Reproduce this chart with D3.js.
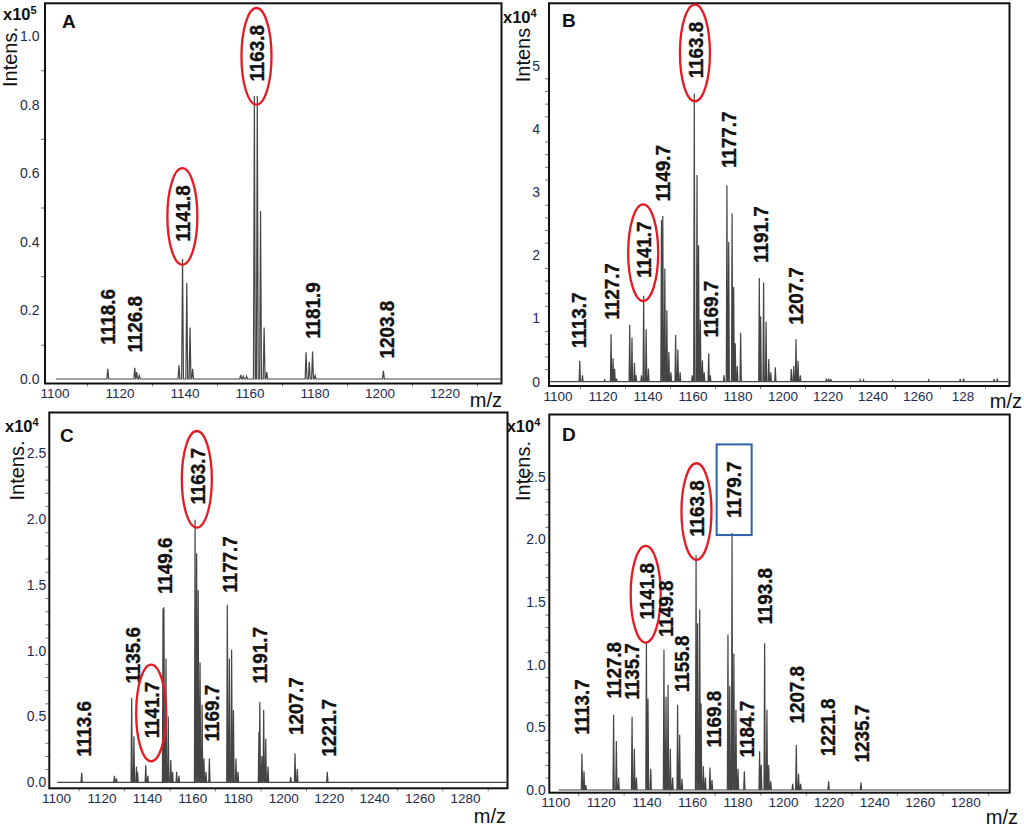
<!DOCTYPE html>
<html>
<head>
<meta charset="utf-8">
<script src="https://cdn.jsdelivr.net/npm/d3@7"></script>
<style>
  body { margin: 0; background: #fff; }
  svg { display: block; }
  text { font-family: "Liberation Sans", Arial, sans-serif; }
</style>
</head>
<body>
<div id="fig"></div>
<script>
// ---- data (m/z, intensity in axis units) ----
const peaksA = [
  [1116.4, 0.03], [1124.7, 0.033], [1125.3, 0.02], [1126.1, 0.01],
  [1138.3, 0.04], [1139.4, 0.35], [1140.7, 0.28], [1141.7, 0.15], [1142.5, 0.03],
  [1157.3, 0.012], [1158.1, 0.008], [1159.1, 0.008],
  [1161.5, 0.825], [1162.4, 0.825], [1163.4, 0.49], [1164.5, 0.15], [1165.3, 0.02],
  [1177.4, 0.078], [1178.4, 0.05], [1179.4, 0.08], [1180.2, 0.01],
  [1201.2, 0.024]
];
const peaksB = [
  [1109.9, 0.33], [1111.1, 0.1], [1121.0, 0.03],
  [1123.8, 0.75], [1124.7, 0.37], [1125.4, 0.2], [1126.2, 0.05],
  [1132.1, 0.9], [1133.1, 0.7], [1134.2, 0.3], [1134.9, 0.1],
  [1137.3, 0.1], [1138.3, 1.36], [1139.4, 0.83], [1140.4, 0.21],
  [1146.2, 2.56], [1146.8, 2.62], [1147.7, 1.79], [1148.6, 1.13], [1149.5, 0.47], [1150.4, 0.15],
  [1152.5, 0.74], [1153.5, 0.51], [1154.5, 0.15],
  [1159.9, 0.1], [1160.8, 4.56], [1162.0, 3.27], [1162.7, 2.16], [1163.5, 0.98], [1164.4, 0.34], [1165.2, 0.15],
  [1167.2, 0.45], [1167.9, 0.1],
  [1174.0, 0.1], [1175.3, 3.11], [1176.1, 2.21], [1177.6, 2.66], [1178.3, 1.5], [1179.0, 0.61], [1179.9, 0.25], [1181.4, 0.77],
  [1189.7, 1.64], [1190.3, 1.03], [1191.6, 1.57], [1192.7, 0.95], [1193.9, 0.36], [1194.8, 0.15], [1196.8, 0.23],
  [1203.9, 0.2], [1205.0, 0.25], [1206.0, 0.67], [1206.9, 0.33], [1207.9, 0.1],
  [1219.5, 0.05], [1220.5, 0.05], [1221.5, 0.04], [1234.5, 0.03], [1236.0, 0.03],
  [1249.0, 0.02], [1265.0, 0.03], [1279.0, 0.04], [1280.5, 0.05], [1294.0, 0.04], [1295.5, 0.05]
];
const peaksC = [
  [1111.3, 0.073], [1125.7, 0.05], [1126.6, 0.03],
  [1133.3, 0.64], [1134.3, 0.35], [1135.4, 0.12], [1135.9, 0.08],
  [1139.5, 0.13], [1140.4, 0.05],
  [1147.1, 1.32], [1147.5, 1.33], [1148.4, 0.94], [1149.4, 0.5], [1150.5, 0.17], [1151.3, 0.08], [1153.1, 0.08], [1154.1, 0.05],
  [1161.2, 1.995], [1161.9, 1.74], [1162.6, 1.46], [1163.4, 0.91], [1164.3, 0.59], [1165.1, 0.18], [1166.0, 0.08], [1167.5, 0.18],
  [1175.4, 1.35], [1176.3, 0.94], [1177.3, 1.01], [1178.1, 0.55], [1179.2, 0.18], [1180.1, 0.08],
  [1189.3, 0.38], [1189.7, 0.61], [1190.6, 0.2], [1191.4, 0.55], [1192.3, 0.33], [1193.3, 0.12],
  [1203.3, 0.04], [1205.2, 0.22], [1206.2, 0.1],
  [1219.4, 0.08]
];
const peaksD = [
  [1111.7, 0.29], [1112.6, 0.15], [1113.4, 0.04],
  [1125.6, 0.6], [1126.8, 0.39], [1127.8, 0.1],
  [1133.7, 0.585], [1134.7, 0.33], [1135.6, 0.1],
  [1140.0, 1.18], [1140.7, 0.73], [1141.9, 0.17],
  [1147.7, 1.12], [1148.6, 0.745], [1149.5, 0.84], [1150.5, 0.33], [1151.5, 0.1],
  [1153.7, 0.68], [1154.6, 0.44], [1155.6, 0.09],
  [1161.8, 1.875], [1162.5, 1.33], [1163.4, 1.44], [1164.0, 0.69], [1165.0, 0.19], [1165.9, 0.1],
  [1167.9, 0.18], [1168.8, 0.08],
  [1175.8, 1.24], [1176.6, 0.83], [1177.6, 2.05], [1178.4, 1.09], [1179.3, 0.64], [1180.2, 0.17], [1183.0, 0.15],
  [1189.7, 0.31], [1190.4, 0.2], [1191.9, 1.17], [1192.9, 0.64], [1193.7, 0.2], [1194.6, 0.07],
  [1204.2, 0.05], [1205.8, 0.36], [1206.8, 0.13], [1207.7, 0.05],
  [1220.0, 0.07], [1234.2, 0.06]
];

// peak annotations: [text, m/z on axis, intensity at the foot of the label]
const labelsA = [
  ['1118.6', 1116.4, 0.10], ['1126.8', 1124.8, 0.077], ['1141.8', 1139.5, 0.40],
  ['1163.8', 1162.3, 0.867], ['1181.9', 1179.5, 0.117], ['1203.8', 1202.2, 0.06]
];
const labelsB = [
  ['1113.7', 1109.5, 0.53], ['1127.7', 1124.2, 0.98], ['1141.7', 1138.3, 1.64],
  ['1149.7', 1146.8, 2.85], ['1163.8', 1161.3, 4.80], ['1169.7', 1167.9, 0.70],
  ['1177.7', 1176.1, 3.38], ['1191.7', 1190.2, 1.88], ['1207.7', 1205.7, 0.90]
];
const labelsC = [
  ['1113.6', 1112.0, 0.195], ['1135.6', 1133.6, 0.75], ['1141.7', 1142.1, 0.334],
  ['1149.6', 1148.0, 1.43], ['1163.7', 1162.2, 2.11], ['1169.7', 1168.5, 0.31],
  ['1177.7', 1176.3, 1.44], ['1191.7', 1189.8, 0.75], ['1207.7', 1205.6, 0.36],
  ['1221.7', 1219.9, 0.195]
];
const labelsD = [
  ['1113.7', 1111.7, 0.44], ['1127.8', 1125.6, 0.73], ['1135.7', 1133.7, 0.72],
  ['1141.8', 1139.9, 1.36], ['1149.8', 1148.6, 1.22], ['1155.8', 1155.3, 0.78],
  ['1163.8', 1162.2, 2.02], ['1169.8', 1169.5, 0.34], ['1179.7', 1178.3, 2.17],
  ['1184.7', 1184.2, 0.26], ['1193.8', 1191.7, 1.32], ['1207.8', 1206.1, 0.53],
  ['1221.8', 1219.7, 0.27], ['1235.7', 1234.3, 0.22]
];
const circledA = ['1141.8', '1163.8'];
const circledB = ['1141.7', '1163.8'];
const circledC = ['1141.7', '1163.7'];
const circledD = ['1141.8', '1163.8'];
const boxedD = ['1179.7'];

// axis ticks
const xTicksA = [1100, 1120, 1140, 1160, 1180, 1200, 1220];
const xTicksBCD = [1100, 1120, 1140, 1160, 1180, 1200, 1220, 1240, 1260, 1280];
const xTextB = ['1100', '1120', '1140', '1160', '1180', '1200', '1220', '1240', '1260', '128'];
const yTicksA = [0, 0.2, 0.4, 0.6, 0.8, 1.0];
const yTicksB = [0, 1, 2, 3, 4, 5];
const yTicksCD = [0, 0.5, 1.0, 1.5, 2.0, 2.5];

// ---- layout of the four panels ----
const panels = [
  { letter: 'A', exp: '5', intens: 'Intens.', peaks: peaksA, labels: labelsA, circled: circledA, boxed: [],
    xTicks: xTicksA, xText: null, yTicks: yTicksA, yFmt: d3.format('.1f'), yMinor: 0.1,
    xCal: [1100, 1220], xPx: [54.5, 444.5], yCal: [0, 1], yPx: [379, 36],
    frame: [45, 3.3, 501.5, 383.5], letterPos: [62, 28], expPos: [3, 20], intensPos: [10, 57],
    mzPos: [502, 407], yLabGap: 5.5, startMz: 1100.4 },
  { letter: 'B', exp: '4', intens: 'Intens', peaks: peaksB, labels: labelsB, circled: circledB, boxed: [],
    xTicks: xTicksBCD, xText: xTextB, yTicks: yTicksB, yFmt: d3.format('d'), yMinor: 0.2,
    xCal: [1100, 1280], xPx: [557.5, 962.5], yCal: [0, 5], yPx: [381.7, 65.7],
    frame: [549, 3.3, 1009.5, 386], letterPos: [562, 27], expPos: [503, 23.3], intensPos: [523, 55],
    mzPos: [1022, 408], yLabGap: 9, startMz: null },
  { letter: 'C', exp: '4', intens: 'Intens.', peaks: peaksC, labels: labelsC, circled: circledC, boxed: [],
    xTicks: xTicksBCD, xText: null, yTicks: yTicksCD, yFmt: d3.format('.1f'), yMinor: 0.1,
    xCal: [1100, 1280], xPx: [56, 465], yCal: [0, 2.5], yPx: [782.3, 453.3],
    frame: [49.3, 412.5, 507.5, 788.3], letterPos: [60, 441.7], expPos: [5, 431.7], intensPos: [16.7, 470.5],
    mzPos: [506, 823], yLabGap: 3, startMz: 1100.6 },
  { letter: 'D', exp: '4', intens: 'Intens.', peaks: peaksD, labels: labelsD, circled: circledD, boxed: boxedD,
    xTicks: xTicksBCD, xText: null, yTicks: yTicksCD, yFmt: d3.format('.1f'), yMinor: 0.1,
    xCal: [1100, 1280], xPx: [555.3, 965.3], yCal: [0, 2.5], yPx: [790, 476.7],
    frame: [549.3, 414.5, 1009.7, 792.7], letterPos: [562, 441], expPos: [506.7, 431.7], intensPos: [522.7, 471],
    mzPos: [1018, 824], yLabGap: 3.5, startMz: 1101.5 }
];

const W = 1024, H = 829;
const PEAK_HALF = 0.28; // half width of a profile peak, in m/z
const svg = d3.select('#fig').append('svg').attr('width', W).attr('height', H);

panels.forEach(p => drawPanel(svg, p));

function drawPanel(root, p) {
  const x = d3.scaleLinear().domain(p.xCal).range(p.xPx);
  const y = d3.scaleLinear().domain(p.yCal).range(p.yPx);
  const [fx0, fy0, fx1, fy1] = p.frame;
  const g = root.append('g').attr('class', 'panel panel-' + p.letter);

  // spectrum trace: baseline with narrow profile peaks
  const mz0 = p.startMz != null ? p.startMz : x.invert(fx0 + 1);
  const mz1 = x.invert(fx1 - 1);
  const pts = [[mz0, 0]];
  p.peaks.slice().sort((a, b) => a[0] - b[0]).forEach(([m, v]) => {
    pts.push([m - PEAK_HALF, 0], [m, v], [m + PEAK_HALF, 0]);
  });
  pts.push([mz1, 0]);
  g.append('path')
    .attr('d', d3.line().x(d => x(d[0])).y(d => y(d[1]))(pts))
    .attr('fill', 'none')
    .attr('stroke', '#444')
    .attr('stroke-width', 1.2)
    .attr('stroke-linejoin', 'miter');

  // y axis labels and minor ticks
  const yMinorVals = d3.range(p.yCal[0], p.yCal[1] + 1e-9, p.yMinor)
    .filter(v => !p.yTicks.some(t => Math.abs(t - v) < 1e-6));
  g.append('g')
    .attr('transform', `translate(${fx0}, 0)`)
    .call(d3.axisLeft(y).tickValues(yMinorVals).tickSize(4).tickFormat(''))
    .call(s => s.select('.domain').remove())
    .call(s => s.selectAll('line').attr('stroke', '#777'));
  g.append('g')
    .attr('transform', `translate(${fx0}, 0)`)
    .call(d3.axisLeft(y).tickValues(p.yTicks).tickFormat(p.yFmt).tickSize(0).tickPadding(p.yLabGap))
    .call(s => s.select('.domain').remove())
    .call(s => s.selectAll('text')
      .attr('font-family', '"Liberation Sans", Arial, sans-serif')
      .attr('font-size', 14)
      .attr('fill', '#1d2b4f'));

  // x axis labels and minor ticks
  const xMinorVals = d3.range(1110, x.invert(fx1), 20);
  g.append('g')
    .attr('transform', `translate(0, ${fy1})`)
    .call(d3.axisBottom(x).tickValues(xMinorVals).tickSize(3).tickFormat(''))
    .call(s => s.select('.domain').remove())
    .call(s => s.selectAll('line').attr('stroke', '#777'));
  g.append('g')
    .attr('transform', `translate(0, ${fy1})`)
    .call(d3.axisBottom(x).tickValues(p.xTicks).tickSize(0).tickPadding(5)
      .tickFormat((d, i) => p.xText ? p.xText[i] : d3.format('d')(d)))
    .call(s => s.select('.domain').remove())
    .call(s => s.selectAll('text')
      .attr('font-family', '"Liberation Sans", Arial, sans-serif')
      .attr('font-size', 13.5)
      .attr('fill', '#1d2b4f'));

  // frame
  g.append('rect')
    .attr('x', fx0).attr('y', fy0)
    .attr('width', fx1 - fx0).attr('height', fy1 - fy0)
    .attr('fill', 'none')
    .attr('stroke', '#111')
    .attr('stroke-width', 2);

  // peak labels (slightly condensed heavy digits, read bottom to top)
  const SQUEEZE = 0.92;
  p.labels.forEach(([txt, m, v]) => {
    const px = x(m), py = y(v);
    const t = g.append('text')
      .attr('transform', `translate(${px}, ${py}) rotate(-90) scale(${SQUEEZE}, 1)`)
      .attr('dy', '0.36em')
      .attr('font-size', 20.5)
      .attr('font-weight', 'bold')
      .attr('fill', '#111')
      .attr('stroke', '#111')
      .attr('stroke-width', 0.35)
      .text(txt);
    const len = t.node().getComputedTextLength() * SQUEEZE;
    const cy = py - len / 2;
    if (p.circled.includes(txt)) {
      g.append('ellipse')
        .attr('cx', px - 0.5).attr('cy', cy + 3)
        .attr('rx', 15).attr('ry', len / 2 + 20)
        .attr('fill', 'none')
        .attr('stroke', '#e51b23')
        .attr('stroke-width', 2.3);
    }
    if (p.boxed.includes(txt)) {
      g.append('rect')
        .attr('x', px - 17).attr('y', cy - len / 2 - 17)
        .attr('width', 35).attr('height', len + 34)
        .attr('fill', 'none')
        .attr('stroke', '#2c62a8')
        .attr('stroke-width', 2);
    }
  });

  // panel letter, exponent, axis titles
  g.append('text')
    .attr('x', p.letterPos[0]).attr('y', p.letterPos[1])
    .attr('font-size', 19).attr('font-weight', 'bold').attr('fill', '#111')
    .text(p.letter);

  const ex = g.append('text')
    .attr('x', p.expPos[0]).attr('y', p.expPos[1])
    .attr('font-size', 16.5).attr('font-weight', 'bold').attr('fill', '#111');
  ex.append('tspan').text('x10');
  ex.append('tspan').attr('font-size', 11).attr('dy', -6).text(p.exp);

  g.append('text')
    .attr('transform', `translate(${p.intensPos[0]}, ${p.intensPos[1]}) rotate(-90)`)
    .attr('text-anchor', 'middle')
    .attr('dominant-baseline', 'central')
    .attr('font-size', 20)
    .attr('fill', '#111')
    .text(p.intens);

  g.append('text')
    .attr('x', p.mzPos[0]).attr('y', p.mzPos[1])
    .attr('text-anchor', 'end')
    .attr('font-size', 20)
    .attr('fill', '#111')
    .text('m/z');
}
</script>
</body>
</html>
